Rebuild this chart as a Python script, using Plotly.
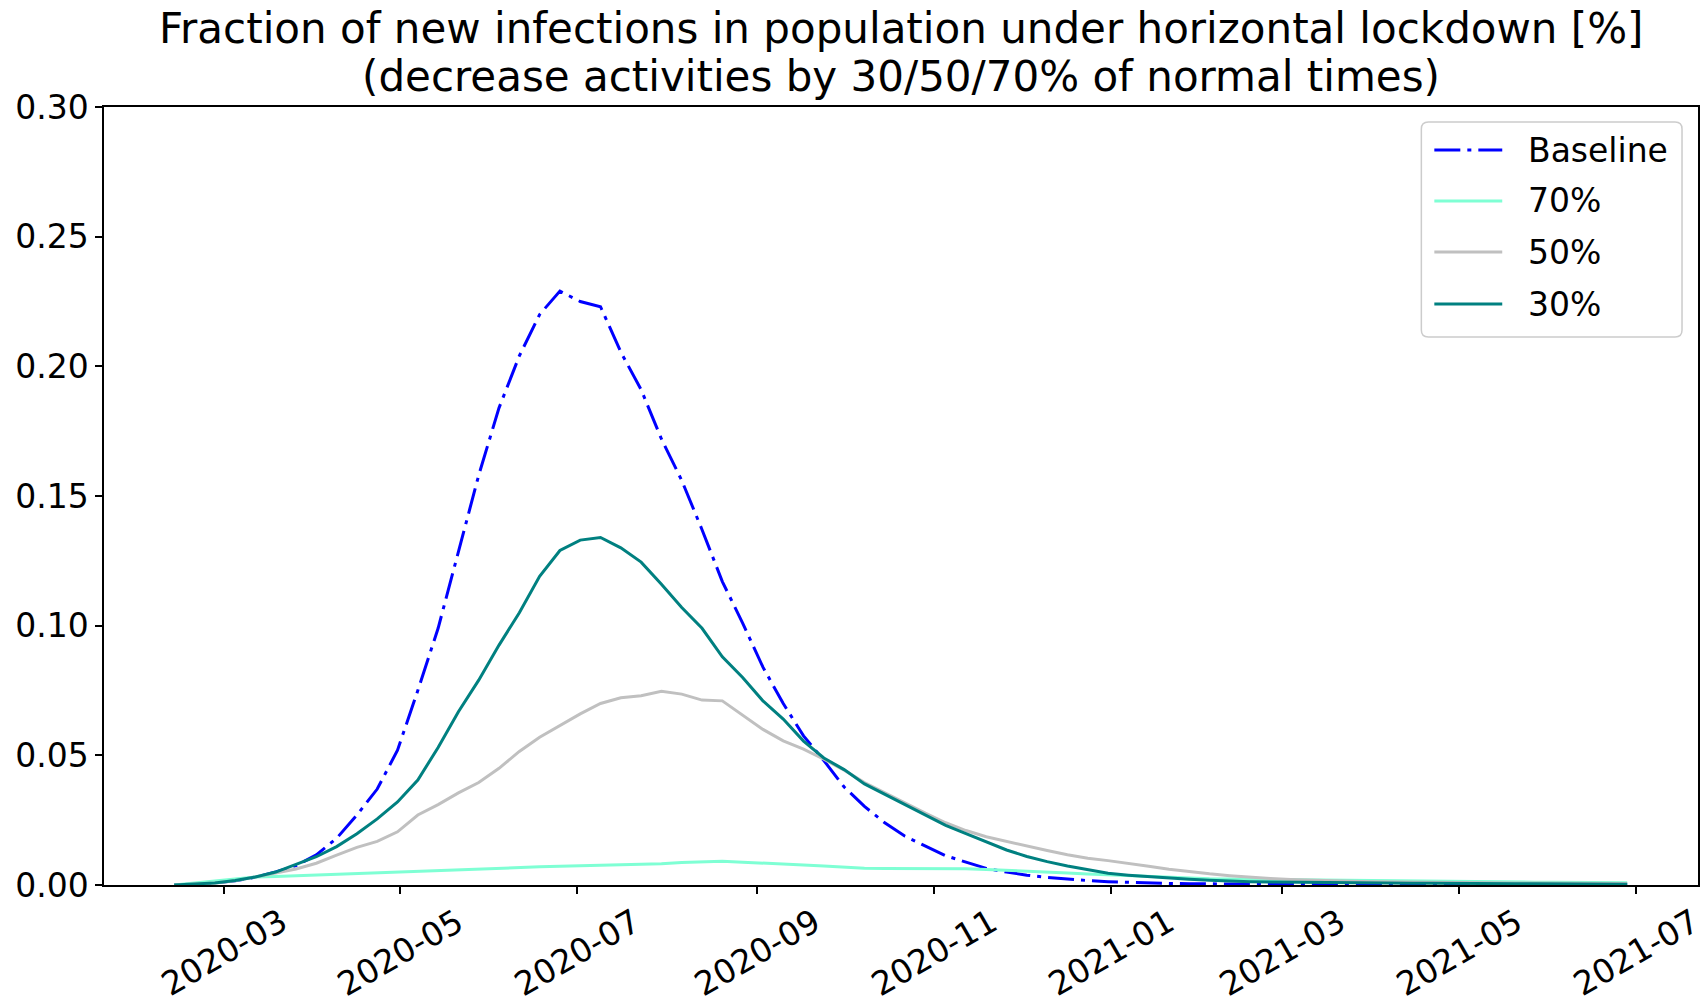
import pandas as pd
import plotly.graph_objects as go

# Weekly samples from 2020-02-13, plus the final day of the run
dates = list(pd.date_range("2020-02-13", periods=72, freq="7D")) + [pd.Timestamp("2021-06-28")]

baseline = [0.0, 0.0003, 0.0008, 0.0016, 0.003, 0.005, 0.0075, 0.0116, 0.018, 0.027,
            0.037, 0.052, 0.075, 0.099, 0.128, 0.158, 0.184, 0.204, 0.220, 0.229,
            0.225, 0.223, 0.2055, 0.191, 0.172, 0.156, 0.137, 0.117, 0.101, 0.084,
            0.070, 0.0575, 0.048, 0.0378, 0.0303, 0.024, 0.0188, 0.015, 0.0113, 0.0088,
            0.0064, 0.005, 0.0038, 0.0029, 0.0022, 0.0017, 0.0013, 0.001, 0.0008, 0.0006,
            0.0005, 0.0004, 0.0004, 0.0003, 0.0003, 0.0003, 0.0002, 0.0002, 0.0002, 0.0002,
            0.0002, 0.0001, 0.0001, 0.0001, 0.0001, 0.0001, 0.0001, 0.0001, 0.0001, 0.0001,
            0.0001, 0.0001, 0.0001]

lock70 = [0.0, 0.0008, 0.0016, 0.0025, 0.0031, 0.0033, 0.0036, 0.0038, 0.004, 0.0043,
          0.0046, 0.005, 0.0053, 0.0057, 0.006, 0.0063, 0.0065, 0.0068, 0.007, 0.0072,
          0.0074, 0.0077, 0.0079, 0.008, 0.0082, 0.0087, 0.009, 0.0092, 0.0088, 0.0085,
          0.008, 0.0077, 0.0073, 0.0068, 0.0065, 0.0064, 0.0064, 0.0064, 0.0064, 0.0063,
          0.006, 0.0057, 0.0053, 0.005, 0.0046, 0.0042, 0.0039, 0.0035, 0.0031, 0.0028,
          0.0026, 0.0024, 0.0023, 0.0022, 0.0021, 0.002, 0.0019, 0.0018, 0.0018, 0.0017,
          0.0016, 0.0015, 0.0015, 0.0014, 0.0013, 0.0013, 0.0012, 0.0011, 0.0011, 0.001,
          0.001, 0.0009, 0.0009]

lock50 = [0.0, 0.0003, 0.0008, 0.0016, 0.003, 0.0046, 0.0062, 0.0084, 0.0115, 0.0145,
          0.0168, 0.0205, 0.027, 0.031, 0.0355, 0.0395, 0.045, 0.0515, 0.057, 0.0615,
          0.066, 0.070, 0.0722, 0.073, 0.0747, 0.0736, 0.0713, 0.071, 0.0655, 0.060,
          0.0556, 0.0524, 0.0485, 0.0443, 0.0395, 0.0355, 0.0316, 0.0277, 0.024, 0.021,
          0.0186, 0.0168, 0.015, 0.0133, 0.0117, 0.0103, 0.0094, 0.0084, 0.0072, 0.0061,
          0.0051, 0.0043, 0.0036, 0.003, 0.0025, 0.0021, 0.0018, 0.0016, 0.0014, 0.0013,
          0.0012, 0.0011, 0.001, 0.001, 0.0009, 0.0009, 0.0008, 0.0008, 0.0007, 0.0007,
          0.0006, 0.0006, 0.0006]

lock30 = [0.0, 0.0003, 0.0008, 0.0017, 0.0031, 0.005, 0.0078, 0.0109, 0.0148, 0.0198,
          0.0255, 0.032, 0.0405, 0.053, 0.0668, 0.079, 0.0925, 0.105, 0.119, 0.129,
          0.133, 0.134, 0.130, 0.1245, 0.116, 0.107, 0.099, 0.088, 0.080, 0.071,
          0.064, 0.0555, 0.049, 0.0445, 0.039, 0.035, 0.031, 0.027, 0.023, 0.0198,
          0.0167, 0.0135, 0.011, 0.009, 0.0073, 0.006, 0.0045, 0.0038, 0.0032, 0.0026,
          0.0022, 0.0018, 0.0015, 0.0013, 0.0012, 0.0011, 0.001, 0.0009, 0.0009, 0.0008,
          0.0008, 0.0007, 0.0007, 0.0006, 0.0006, 0.0005, 0.0005, 0.0005, 0.0004, 0.0004,
          0.0004, 0.0003, 0.0003]

tick_dates = ["2020-03-01", "2020-05-01", "2020-07-01", "2020-09-01", "2020-11-01",
              "2021-01-01", "2021-03-01", "2021-05-01", "2021-07-01"]
tick_text = ["2020-03", "2020-05", "2020-07", "2020-09", "2020-11",
             "2021-01", "2021-03", "2021-05", "2021-07"]

DASHDOT = "26px,7px,4px,7px"
series = [
    ("Baseline", baseline, "#0000ff", DASHDOT),
    ("70%", lock70, "#7fffd4", "solid"),
    ("50%", lock50, "#c0c0c0", "solid"),
    ("30%", lock30, "#008080", "solid"),
]

FONT = "DejaVu Sans"
W, H = 1706, 997
ML, MR, MT, MB = 104, 6, 107, 112
PW, PH = W - ML - MR, H - MT - MB


def px(xpix):
    """figure pixel x -> paper x"""
    return (xpix - ML) / PW


def py(ypix):
    """figure pixel y (from top) -> paper y"""
    return (H - MB - ypix) / PH


fig = go.Figure()
for name, vals, color, dash in series:
    fig.add_trace(go.Scatter(
        x=dates, y=vals, mode="lines", name=name, showlegend=False,
        line=dict(color=color, width=3, dash=dash),
    ))

axis_common = dict(
    showgrid=False, zeroline=False, showline=True, mirror=True,
    linecolor="black", linewidth=1.5, ticks="outside", ticklen=7,
    tickwidth=1.5, tickcolor="black",
)

fig.update_xaxes(
    type="date", range=["2020-01-19 19:00", "2021-07-22 10:00"],
    tickvals=tick_dates, showticklabels=False, **axis_common,
)
fig.update_yaxes(
    range=[0, 0.30], tick0=0, dtick=0.05, tickformat=".2f",
    tickfont=dict(family=FONT, size=33, color="black"), **axis_common,
)

# rotated date labels centred under their ticks
for d, t in zip(tick_dates, tick_text):
    fig.add_annotation(
        x=d, y=0, xref="x", yref="paper", text=t, showarrow=False,
        textangle=-30, xanchor="center", yanchor="middle", yshift=-67,
        font=dict(family=FONT, size=33, color="black"),
    )

# two-line title
fig.add_annotation(
    x=0.5, y=1, xref="paper", yref="paper", showarrow=False,
    text="Fraction of new infections in population under horizontal lockdown [%]",
    xanchor="center", yanchor="bottom", yshift=52,
    font=dict(family=FONT, size=42, color="black"),
)
fig.add_annotation(
    x=0.5, y=1, xref="paper", yref="paper", showarrow=False,
    text="(decrease activities by 30/50/70% of normal times)",
    xanchor="center", yanchor="bottom", yshift=4,
    font=dict(family=FONT, size=42, color="black"),
)

# legend box with rounded corners
bx0, bx1, by0, by1 = 1423, 1684, 122, 337
r = 7
x0, x1 = px(bx0), px(bx1)
y0, y1 = py(by1), py(by0)
rx, ry = r / PW, r / PH
box_path = (
    f"M {x0 + rx},{y1} L {x1 - rx},{y1} Q {x1},{y1} {x1},{y1 - ry} "
    f"L {x1},{y0 + ry} Q {x1},{y0} {x1 - rx},{y0} "
    f"L {x0 + rx},{y0} Q {x0},{y0} {x0},{y0 + ry} "
    f"L {x0},{y1 - ry} Q {x0},{y1} {x0 + rx},{y1} Z"
)
fig.add_shape(type="path", path=box_path, xref="paper", yref="paper",
              line=dict(color="#cccccc", width=1.5), fillcolor="rgba(255,255,255,0.8)")

entry_y = [150, 201, 252, 304]
for (name, _, color, dash), ey in zip(series, entry_y):
    fig.add_shape(type="line", xref="paper", yref="paper",
                  x0=px(1436), x1=px(1504), y0=py(ey), y1=py(ey),
                  line=dict(color=color, width=3, dash=dash))
    fig.add_annotation(x=px(1528), y=py(ey), xref="paper", yref="paper",
                       text=name, showarrow=False, xanchor="left", yanchor="middle",
                       font=dict(family=FONT, size=33, color="black"))

fig.update_layout(
    width=W, height=H,
    margin=dict(l=ML, r=MR, t=MT, b=MB),
    plot_bgcolor="white", paper_bgcolor="white",
    font=dict(family=FONT, color="black"),
    showlegend=False,
)

fig.write_html("out.html")
